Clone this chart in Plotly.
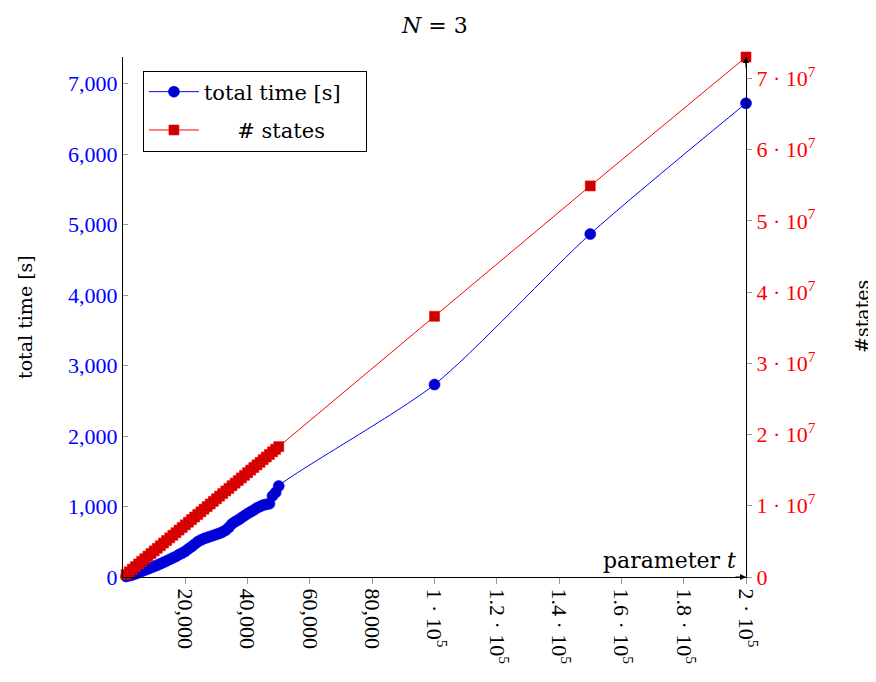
import plotly.graph_objects as go

# parameter t values
t_values = [1000, 2000, 3000, 4000, 5000, 6000, 7000, 8000, 9000, 10000,
            11000, 12000, 13000, 14000, 15000, 16000, 17000, 18000, 19000, 20000,
            21000, 22000, 23000, 24000, 25000, 26000, 27000, 28000, 29000, 30000,
            31000, 32000, 33000, 34000, 35000, 36000, 37000, 38000, 39000, 40000,
            41000, 42000, 43000, 44000, 45000, 46000, 47000, 48000, 49000, 50000,
            100000, 150000, 200000]

# total time [s]
total_time = [8, 18, 30, 45, 62, 80, 98, 115, 132, 150,
              168, 188, 208, 228, 250, 270, 292, 318, 340, 365,
              400, 430, 465, 500, 525, 545, 560, 575, 590, 605,
              620, 640, 665, 705, 755, 785, 810, 840, 870, 900,
              925, 950, 980, 1000, 1020, 1030, 1040, 1150, 1200, 1290,
              2730, 4865, 6720]

# number of states (millions)
states_millions = [0.37, 0.73, 1.10, 1.46, 1.83, 2.20, 2.56, 2.93, 3.29, 3.66,
                   4.03, 4.39, 4.76, 5.12, 5.49, 5.86, 6.22, 6.59, 6.95, 7.32,
                   7.69, 8.05, 8.42, 8.78, 9.15, 9.52, 9.88, 10.25, 10.61, 10.98,
                   11.35, 11.71, 12.08, 12.44, 12.81, 13.18, 13.54, 13.91, 14.27, 14.64,
                   15.01, 15.37, 15.74, 16.10, 16.47, 16.84, 17.20, 17.57, 17.93, 18.30,
                   36.6, 54.9, 73.0]
states = [v * 1e6 for v in states_millions]

x_tickvals = [20000, 40000, 60000, 80000, 100000, 120000, 140000, 160000, 180000, 200000]
x_ticktext = ["20,000", "40,000", "60,000", "80,000", "1 · 10<sup>5</sup>",
              "1.2 · 10<sup>5</sup>", "1.4 · 10<sup>5</sup>", "1.6 · 10<sup>5</sup>",
              "1.8 · 10<sup>5</sup>", "2 · 10<sup>5</sup>"]
y_tickvals = [0, 1000, 2000, 3000, 4000, 5000, 6000, 7000]
y_ticktext = ["0", "1,000", "2,000", "3,000", "4,000", "5,000", "6,000", "7,000"]
y2_tickvals = [0, 1e7, 2e7, 3e7, 4e7, 5e7, 6e7, 7e7]
y2_ticktext = ["0"] + ["%d · 10<sup>7</sup>" % k for k in range(1, 8)]

FONT = '"Liberation Serif", "Times New Roman", serif'
WFONT = '"DejaVu Serif", "Liberation Serif", serif'
NB = "\u00a0"

fig = go.Figure()
fig.add_trace(go.Scatter(
    x=t_values, y=total_time, name="total time [s]" + NB * 3, mode="lines+markers",
    legendgroup="a",
    line=dict(color="#0000FF", width=1, shape="spline", smoothing=0.7),
    marker=dict(symbol="circle", size=11, color="#0000CC",
                line=dict(width=0.6, color="#0000FF")),
    cliponaxis=False, yaxis="y"))
fig.add_trace(go.Scatter(
    x=t_values, y=states, name=NB * 5 + "# states", mode="lines+markers",
    legendgroup="b",
    line=dict(color="#FF0000", width=1),
    marker=dict(symbol="square", size=10, color="#CC0000",
                line=dict(width=0.6, color="#FF0000")),
    cliponaxis=False, yaxis="y2"))

# the page body adds an 8px offset, so margins are reduced accordingly
fig.update_layout(
    width=876, height=682,
    margin=dict(l=115, r=138, t=49, b=113, autoexpand=False),
    paper_bgcolor="white", plot_bgcolor="white",
    font=dict(family=FONT, size=22, color="black"),
    showlegend=True,
    legend=dict(x=0.032, y=0.974, xanchor="left", yanchor="top",
                bordercolor="black", borderwidth=1, bgcolor="white",
                font=dict(family=WFONT, size=21), traceorder="grouped",
                tracegroupgap=8, itemwidth=50),
    xaxis=dict(range=[0, 200000], tickvals=x_tickvals, ticktext=x_ticktext,
               tickangle=90, showgrid=False, zeroline=False, automargin=False,
               showline=True, linecolor="black", linewidth=1,
               ticks="outside", ticklen=6, tickcolor="#999999",
               tickfont=dict(family=FONT, size=22, color="black")),
    yaxis=dict(range=[0, 7376], tickvals=y_tickvals, ticktext=y_ticktext,
               showgrid=False, zeroline=False, showline=True, linecolor="black",
               automargin=False,
               linewidth=1, ticks="inside", ticklen=5, tickcolor="#999999",
               tickfont=dict(family=FONT, size=22, color="#0000FF")),
    yaxis2=dict(range=[0, 7.3e7], tickvals=y2_tickvals, ticktext=y2_ticktext,
                overlaying="y", side="right", showgrid=False, zeroline=False,
                automargin=False,
                showline=True, linecolor="black", linewidth=1,
                ticks="outside", ticklen=5, tickcolor="#999999",
                tickfont=dict(family=FONT, size=22, color="#FF0000")),
    annotations=[
        dict(text="<i>N</i> = 3", x=0.5, y=1, xref="paper", yref="paper",
             yanchor="middle", yshift=32, showarrow=False,
             font=dict(family=WFONT, size=22)),
        dict(text="total time [s]", x=0, y=0.5, xref="paper", yref="paper",
             xanchor="center", xshift=25 - 123, showarrow=False, textangle=-90,
             font=dict(family=WFONT, size=19)),
        dict(text="#states", x=1, y=0.5, xref="paper", yref="paper",
             xanchor="center", xshift=116, showarrow=False, textangle=-90,
             font=dict(family=WFONT, size=19)),
        dict(text="parameter <i>t</i>", x=1, y=0, xref="paper", yref="paper",
             xanchor="right", yanchor="bottom", xshift=-8, yshift=2,
             showarrow=False, font=dict(family=WFONT, size=22)),
        dict(x=1, y=0, xref="paper", yref="paper", ax=-12, ay=0, text="",
             showarrow=True, arrowhead=2, arrowsize=1, arrowwidth=1.2,
             arrowcolor="black"),
        dict(x=1, y=1, xref="paper", yref="paper", ax=0, ay=12, text="",
             showarrow=True, arrowhead=2, arrowsize=1, arrowwidth=1.2,
             arrowcolor="black"),
    ],
)

fig.write_html("out.html")
